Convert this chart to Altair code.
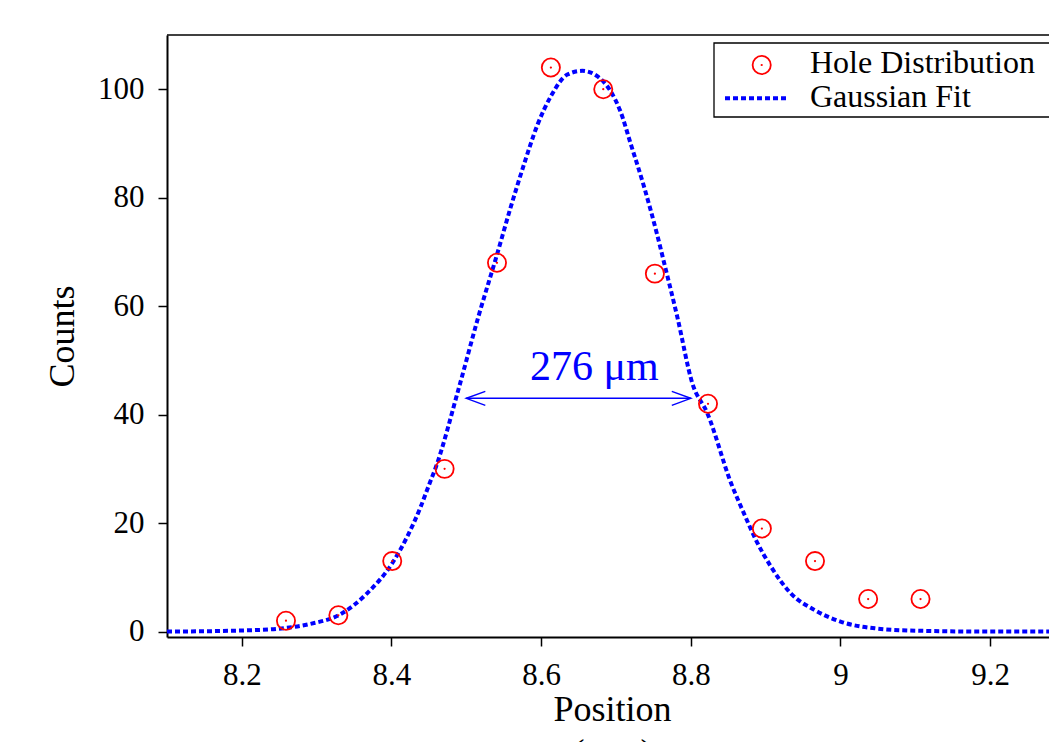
import altair as alt
import pandas as pd

# ---- data ----
hole_pos = [8.259, 8.329, 8.401, 8.471, 8.541, 8.613, 8.683, 8.752, 8.823, 8.895, 8.966, 9.037, 9.107]
hole_cnt = [2, 3, 13, 30, 68, 104, 100, 66, 42, 19, 13, 6, 6]

fit_pos = [8.100, 8.200, 8.247, 8.291, 8.332, 8.367, 8.401, 8.421, 8.439, 8.450, 8.459,
           8.490, 8.516, 8.541, 8.559, 8.577, 8.595, 8.613, 8.635, 8.655, 8.675, 8.693,
           8.706, 8.720, 8.738, 8.755, 8.764, 8.782, 8.802, 8.822, 8.854, 8.871, 8.887,
           8.907, 8.934, 8.965, 9.001, 9.046, 9.104, 9.200, 9.300]
fit_cnt = [0.0, 0.2, 0.5, 1.4, 3.2, 7.0, 12.6, 17.5, 23.0, 27.0, 30.2,
           44.9, 58.0, 69.5, 78.1, 86.1, 93.4, 98.7, 102.7, 103.4, 102.4, 99.6,
           95.9, 89.8, 81.8, 73.2, 68.2, 58.0, 45.8, 40.3, 27.3, 21.8, 16.9,
           12.0, 7.0, 4.0, 1.8, 0.6, 0.15, 0.0, 0.0]

x_ticks = [8.2, 8.4, 8.6, 8.8, 9.0, 9.2]
y_ticks = [0, 20, 40, 60, 80, 100]

fwhm_label = ["276 μm"]
fwhm_label_pos = [8.671]
fwhm_label_cnt = [46.3]
arrow_start = [8.5]
arrow_end = [8.8]
arrow_cnt = [43.0]

legend_labels = ["Hole Distribution", "Gaussian Fit"]

# ---- styling ----
RED = "#ff0000"
BLUE = "#0000ff"
FONT = "Liberation Serif"
W, H = 882, 602
X_DOMAIN = [8.1, 9.2787]
Y_DOMAIN = [-1, 110]
CIRCLE_SIZE = 330
CIRCLE_SW = 1.8
FIT_SW = 4
FIT_DASH = [5, 3]

holes = pd.DataFrame({"pos": hole_pos, "cnt": hole_cnt})
fit = pd.DataFrame({"pos": fit_pos, "cnt": fit_cnt})
ann = pd.DataFrame({"pos": fwhm_label_pos, "cnt": fwhm_label_cnt, "label": fwhm_label})
arrow = pd.DataFrame({"pos": arrow_start, "pos2": arrow_end, "cnt": arrow_cnt})
one = pd.DataFrame({"k": [0]})

X = alt.X("pos:Q",
          scale=alt.Scale(domain=X_DOMAIN, nice=False, zero=False),
          axis=alt.Axis(values=x_ticks, format="~g", title=["Position", "(mm)"],
                        titleX=445, titleY=83, titleBaseline="alphabetic",
                        titleAlign="center", titleLineHeight=43,
                        labelPadding=14, tickSize=9))
Y = alt.Y("cnt:Q",
          scale=alt.Scale(domain=Y_DOMAIN, nice=False, zero=False),
          axis=alt.Axis(values=y_ticks, title="Counts", titleAngle=-90,
                        titleX=-105, titleY=301, titleBaseline="middle",
                        titleAlign="center", labelPadding=14, tickSize=9))

curve = alt.Chart(fit).mark_line(color=BLUE, strokeWidth=FIT_SW, strokeDash=FIT_DASH,
                                 interpolate="monotone").encode(x=X, y=Y)
circles = alt.Chart(holes).mark_point(shape="circle", filled=False, size=CIRCLE_SIZE,
                                      strokeWidth=CIRCLE_SW, color=RED, opacity=1).encode(x=X, y=Y)
dots = alt.Chart(holes).mark_point(shape="circle", filled=True, size=5,
                                   color=RED, opacity=1).encode(x=X, y=Y)

arrow_line = alt.Chart(arrow).mark_rule(color=BLUE, strokeWidth=1.5).encode(
    x=X, x2="pos2:Q", y=Y)
head_r = alt.Chart(arrow).mark_point(shape="M-2,-0.74L0,0L-2,0.74",
                                     filled=False, size=361, strokeWidth=1.5,
                                     color=BLUE, opacity=1).encode(
    x=alt.X("pos2:Q", scale=alt.Scale(domain=X_DOMAIN, nice=False, zero=False)), y=Y)
head_l = alt.Chart(arrow).mark_point(shape="M2,-0.74L0,0L2,0.74",
                                     filled=False, size=361, strokeWidth=1.5,
                                     color=BLUE, opacity=1).encode(x=X, y=Y)
ann_text = alt.Chart(ann).mark_text(font=FONT, fontSize=42, color=BLUE,
                                    align="center", baseline="alphabetic").encode(
    x=X, y=Y, text="label:N")

# top frame line
top_line = alt.Chart(one).mark_rule(color="black", strokeWidth=1.5).encode(
    x=alt.value(0), x2=alt.value(W + 20), y=alt.value(0))

# legend (box clipped at the right edge like the reference)
leg_box = alt.Chart(one).mark_rect(fill="white", stroke="black", strokeWidth=1.3).encode(
    x=alt.value(547), x2=alt.value(W + 40), y=alt.value(8), y2=alt.value(82))
leg_circle = alt.Chart(one).mark_point(shape="circle", filled=False, size=CIRCLE_SIZE,
                                       strokeWidth=CIRCLE_SW, color=RED, opacity=1).encode(
    x=alt.value(594.7), y=alt.value(30))
leg_dot = alt.Chart(one).mark_point(shape="circle", filled=True, size=5,
                                    color=RED, opacity=1).encode(
    x=alt.value(594.7), y=alt.value(30))
leg_line = alt.Chart(one).mark_rule(color=BLUE, strokeWidth=FIT_SW, strokeDash=FIT_DASH).encode(
    x=alt.value(558), x2=alt.value(621), y=alt.value(63.3))
leg_t1 = alt.Chart(one).mark_text(font=FONT, fontSize=32, color="black", align="left",
                                  baseline="alphabetic", text=legend_labels[0]).encode(
    x=alt.value(643), y=alt.value(37.7))
leg_t2 = alt.Chart(one).mark_text(font=FONT, fontSize=32, color="black", align="left",
                                  baseline="alphabetic", text=legend_labels[1]).encode(
    x=alt.value(643), y=alt.value(71.7))

chart = alt.layer(
    curve, circles, dots, arrow_line, head_r, head_l, ann_text, top_line,
    leg_box, leg_circle, leg_dot, leg_line, leg_t1, leg_t2
).properties(
    width=W, height=H,
    autosize=alt.AutoSizeParams(type="none"),
    padding={"left": 167, "top": 35, "right": 0, "bottom": 105},
    background="white",
).configure_view(
    strokeOpacity=0
).configure_axis(
    grid=False,
    labelFont=FONT, labelFontSize=31, labelColor="black",
    titleFont=FONT, titleFontSize=36, titleColor="black", titleFontWeight="normal",
    domainColor="black", domainWidth=2,
    tickColor="black", tickWidth=1.5,
    labelFlush=False, labelOverlap=False,
)

chart.save("out.html", embed_options={"renderer": "svg", "actions": False})
